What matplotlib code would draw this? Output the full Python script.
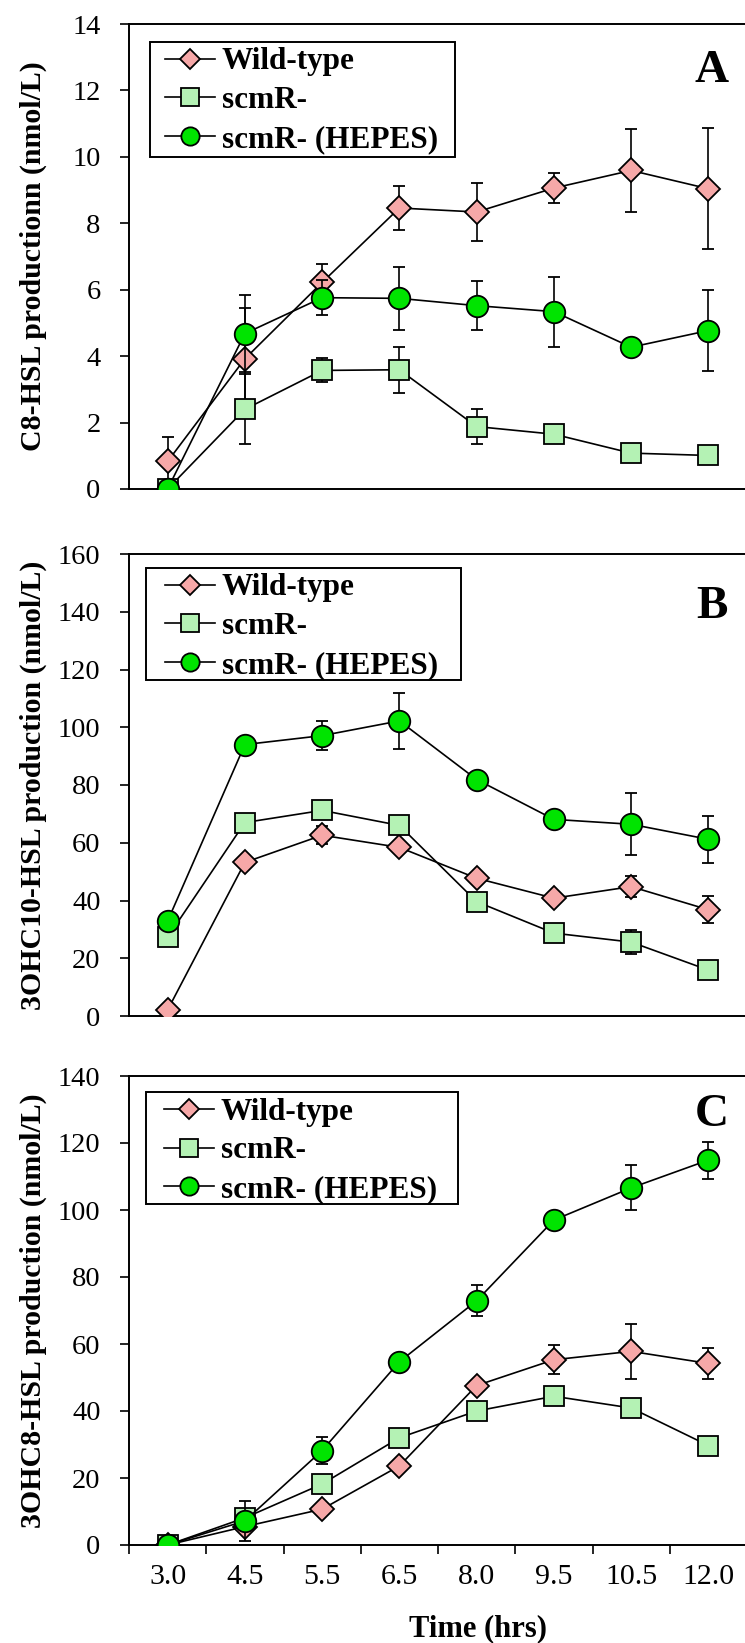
import numpy as np
import matplotlib
matplotlib.use("Agg")
import matplotlib.pyplot as plt
from matplotlib.patches import Rectangle

plt.rcParams['font.family'] = ['Liberation Serif', 'DejaVu Serif']

times = ["3.0", "4.5", "5.5", "6.5", "8.0", "9.5", "10.5", "12.0"]
series_names = ["Wild-type", "scmR-", "scmR- (HEPES)"]

# Panel A: C8-HSL
a_wt = [0.83, 3.92, 6.22, 8.46, 8.34, 9.06, 9.59, 9.04]
a_wt_err = [0.73, 1.52, 0.55, 0.66, 0.88, 0.44, 1.25, 1.82]
a_scmr = [0.0, 2.40, 3.57, 3.59, 1.88, 1.65, 1.08, 1.01]
a_scmr_err = [0.0, 1.05, 0.36, 0.70, 0.52, 0.10, 0.05, 0.05]
a_hepes = [0.0, 4.68, 5.76, 5.74, 5.52, 5.34, 4.27, 4.77]
a_hepes_err = [0.0, 1.15, 0.53, 0.95, 0.74, 1.05, 0.05, 1.21]

# Panel B: 3OHC10-HSL
b_wt = [2.1, 53.2, 62.6, 58.4, 47.7, 40.8, 44.8, 36.8]
b_wt_err = [0.0, 1.0, 3.2, 1.0, 1.0, 1.0, 3.6, 4.6]
b_scmr = [27.3, 67.0, 71.2, 66.0, 39.6, 28.7, 25.6, 15.9]
b_scmr_err = [0.0, 0.0, 0.0, 0.0, 0.0, 0.0, 4.3, 0.0]
b_hepes = [32.9, 94.0, 97.1, 102.2, 81.9, 68.1, 66.4, 61.2]
b_hepes_err = [0.0, 0.0, 5.1, 9.8, 0.0, 1.5, 10.7, 8.1]

# Panel C: 3OHC8-HSL
c_wt = [0.0, 5.5, 10.7, 23.6, 47.6, 55.3, 57.8, 54.2]
c_wt_err = [0.0, 0.0, 0.0, 0.0, 0.0, 4.3, 8.3, 4.6]
c_scmr = [0.0, 8.1, 18.2, 32.0, 40.0, 44.4, 40.9, 29.7]
c_scmr_err = [0.0, 0.0, 0.0, 0.0, 0.0, 0.0, 0.0, 0.0]
c_hepes = [0.0, 7.2, 28.2, 54.7, 72.9, 97.0, 106.6, 114.9]
c_hepes_err = [0.0, 6.0, 3.9, 0.0, 4.6, 0.0, 6.7, 5.5]

panels = [
    dict(letter="A", ylabel="C8-HSL productionn (nmol/L)", ymax=14, ystep=2,
         data=[(a_wt, a_wt_err), (a_scmr, a_scmr_err), (a_hepes, a_hepes_err)]),
    dict(letter="B", ylabel="3OHC10-HSL production (nmol/L)", ymax=160, ystep=20,
         data=[(b_wt, b_wt_err), (b_scmr, b_scmr_err), (b_hepes, b_hepes_err)]),
    dict(letter="C", ylabel="3OHC8-HSL production (nmol/L)", ymax=140, ystep=20,
         data=[(c_wt, c_wt_err), (c_scmr, c_scmr_err), (c_hepes, c_hepes_err)]),
]

W, H = 745, 1643
fig = plt.figure(figsize=(W / 100, H / 100), dpi=100)

# layout in pixels
boxes = [(24, 489), (554, 1016), (1076, 1545)]          # (top, bottom) of each axes
left_px, right_px = 129, 747
frames = [(150, 42, 455, 157), (145.7, 568, 461, 680), (145.7, 1092.3, 458.3, 1204.3)]
handle_x = [165, 165, 164]
letter_y = [0.898, 0.886, 0.916]

styles = [
    dict(marker="D", ms=12, mfc="#f6a8a8"),
    dict(marker="s", ms=15, mfc="#b4f2b4"),
    dict(marker="o", ms=15.5, mfc="#00e400"),
]

x = np.arange(len(times))
aw = right_px - left_px

for i, p in enumerate(panels):
    top, bot = boxes[i]
    ah = bot - top
    ax = fig.add_axes([left_px / W, 1 - bot / H, aw / W, ah / H])
    z = 2
    for (vals, errs), st, name in zip(p["data"], styles, series_names):
        ax.errorbar(x, vals, yerr=errs, fmt="none", ecolor="black", elinewidth=1.2,
                    capsize=4.3, capthick=1.3, zorder=z)
        ax.plot(x, vals, color="black", lw=1.2, marker=st["marker"], ms=st["ms"],
                mfc=st["mfc"], mec="black", mew=1.3, label=name, zorder=z + 1)
        z += 2
    ax.set_xlim(-0.5, 7.5)
    ax.set_ylim(0, p["ymax"])
    ax.set_yticks(np.arange(0, p["ymax"] + 0.001, p["ystep"]))
    ax.tick_params(axis="y", direction="out", length=6.5, width=1.2, labelsize=20.5, pad=14)
    for s in ax.spines.values():
        s.set_linewidth(1.4)
    if i < 2:
        ax.set_xticks([])
    else:
        ax.set_xticks(np.arange(-0.5, 8.0, 1.0))
        ax.set_xticklabels([])
        ax.set_xticks(x, minor=True)
        ax.set_xticklabels(times, minor=True)
        ax.tick_params(axis="x", which="major", direction="out", length=6.5, width=1.2)
        ax.tick_params(axis="x", which="minor", length=0, labelsize=21.5, pad=14)
        ax.set_xlabel("Time (hrs)", fontsize=22, fontweight="bold")
        ax.xaxis.set_label_coords(0.565, -0.148)
    ax.set_ylabel(p["ylabel"], fontsize=21.5, fontweight="bold")
    ax.yaxis.set_label_coords(-0.133, 0.5)
    ax.text(0.943, letter_y[i], p["letter"], transform=ax.transAxes, fontsize=34,
            fontweight="bold", ha="center", va="center")

    # legend frame drawn as a rectangle, legend itself frameless
    fx0, fy0, fx1, fy1 = frames[i]
    rect = Rectangle(((fx0 - left_px) / aw, 1 - (fy1 - top) / ah),
                     (fx1 - fx0) / aw, (fy1 - fy0) / ah, transform=ax.transAxes,
                     facecolor="white", edgecolor="black", lw=1.4, zorder=20, clip_on=False)
    ax.add_patch(rect)
    leg = ax.legend(loc="upper left",
                    bbox_to_anchor=((handle_x[i] - left_px) / aw,
                                    1 - (fy0 + 5.5 - top) / ah),
                    borderaxespad=0, frameon=False, borderpad=0,
                    prop=dict(family="Liberation Serif", weight="bold", size=22.5),
                    handlelength=1.6, handletextpad=0.22, labelspacing=0.31,
                    markerscale=0.85)
    leg.set_zorder(21)

fig.savefig("out.png", dpi=100)
